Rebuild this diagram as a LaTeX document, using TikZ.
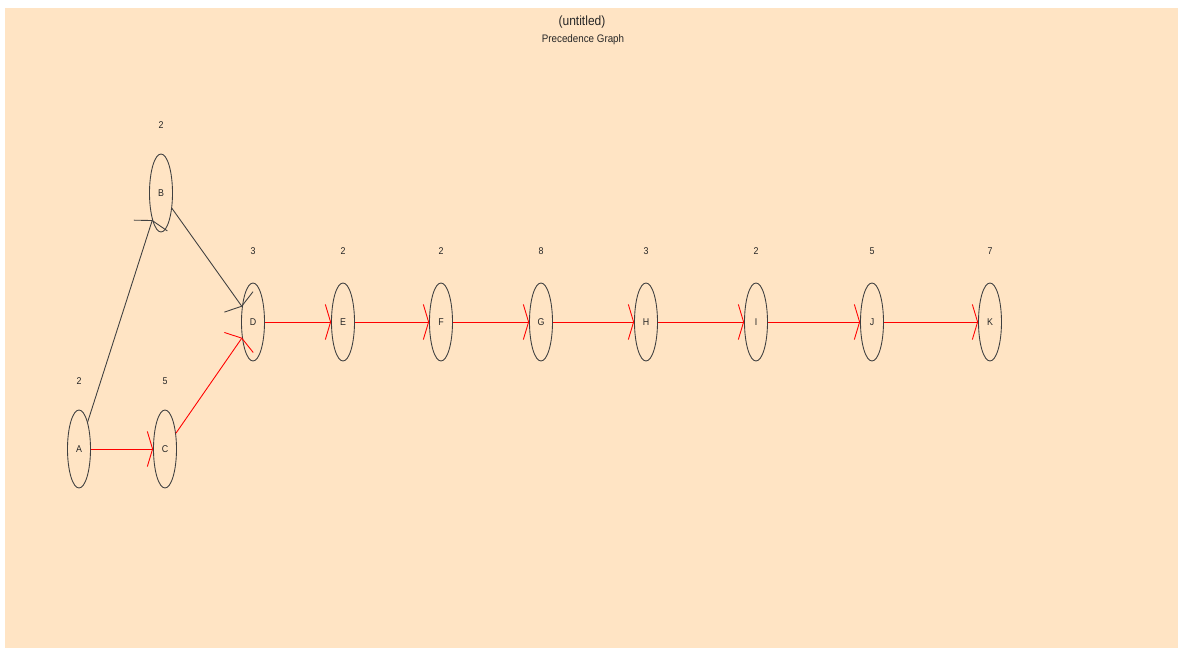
\documentclass[tikz,border=0pt]{standalone}
\usepackage{fontspec}
\setmainfont{Liberation Sans}[FakeStretch=0.9]
\usepackage{xcolor}
\usetikzlibrary{positioning, shapes.geometric, arrows.meta}
\definecolor{bisque}{RGB}{255,228,196}
\tikzset{
    task/.style={ellipse, draw=black!75, minimum width=0.46cm, minimum height=1.56cm, inner sep=0pt, font=\fontsize{5.6}{6}\selectfont, text=black!85, line width=0.5pt},
    weight/.style={font=\fontsize{5.6}{6}\selectfont, text=black!85, inner sep=1pt},
    link/.style={draw=black!75, line width=0.5pt, -{Straight Barb[length=3pt, width=20pt]}},
    critical/.style={draw=red, line width=0.5pt, -{Straight Barb[length=3pt, width=20pt]}},
    caption/.style={font=\fontsize{6.2}{7}\selectfont, text=black!85, inner sep=0pt}
}
\begin{document}
\begin{tikzpicture}[x=0.02cm, y=-0.02cm]
\useasboundingbox (0,0) rectangle (1178,648);
\fill[bisque] (5,8) rectangle (1178,648);

% Title
\node[caption, font=\fontsize{7.6}{8}\selectfont] (title) at (582,22) {(untitled)};
\node[caption] (subtitle) at (583,40) {Precedence Graph};

% Tasks
\node[task] (A) at (79,449) {A};
\node[task] (B) at (161,193) {B};
\node[task] (C) at (165,449) {C};
\node[task] (D) at (253,322) {D};
\node[task] (E) at (343,322) {E};
\node[task] (F) at (441,322) {F};
\node[task] (G) at (541,322) {G};
\node[task] (H) at (646,322) {H};
\node[task] (I) at (756,322) {I};
\node[task] (J) at (872,322) {J};
\node[task] (K) at (990,322) {K};

% Durations
\node[weight] (wA) at (79,381) {2};
\node[weight] (wB) at (161,125) {2};
\node[weight] (wC) at (165,381) {5};
\node[weight] (wD) at (253,251) {3};
\node[weight] (wE) at (343,251) {2};
\node[weight] (wF) at (441,251) {2};
\node[weight] (wG) at (541,251) {8};
\node[weight] (wH) at (646,251) {3};
\node[weight] (wI) at (756,251) {2};
\node[weight] (wJ) at (872,251) {5};
\node[weight] (wK) at (990,251) {7};

% Non-critical precedences
\draw[link] (A) -- (B);
\draw[link] (B) -- (D);

% Critical path
\draw[critical] (A) -- (C);
\draw[critical] (C) -- (D);
\draw[critical] (D) -- (E);
\draw[critical] (E) -- (F);
\draw[critical] (F) -- (G);
\draw[critical] (G) -- (H);
\draw[critical] (H) -- (I);
\draw[critical] (I) -- (J);
\draw[critical] (J) -- (K);
\end{tikzpicture}
\end{document}
